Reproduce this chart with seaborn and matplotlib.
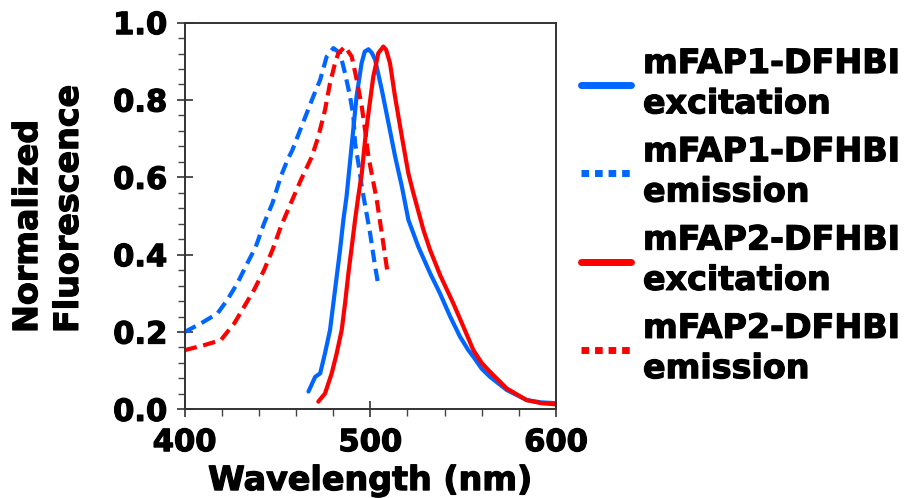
import matplotlib
matplotlib.use("Agg")
import matplotlib.pyplot as plt
import matplotlib.patheffects as pe
import seaborn as sns
import pandas as pd
from matplotlib.ticker import MultipleLocator, FormatStrFormatter

# mFAP1-DFHBI "excitation" (solid blue)
wl_fap1_ex = [466.7, 470.3, 473, 475.6, 478.3, 480.1, 481.9, 483.7, 485.5, 487.2, 489, 490.8,
              492.6, 495.3, 497, 499, 500.8, 502.6, 506.2, 509.8, 513.4, 517, 520.5, 525.9,
              532.2, 537.5, 543, 548.3, 552.8, 555.5, 560, 564.5, 573.5, 584.2, 592, 600]
val_fap1_ex = [0.046, 0.084, 0.093, 0.145, 0.205, 0.274, 0.343, 0.412, 0.49, 0.55, 0.636, 0.722,
               0.809, 0.895, 0.925, 0.931, 0.922, 0.904, 0.826, 0.74, 0.653, 0.576, 0.49, 0.42,
               0.352, 0.30, 0.24, 0.188, 0.153, 0.136, 0.105, 0.084, 0.05, 0.024, 0.018, 0.016]

# mFAP1-DFHBI "emission" (dashed blue)
wl_fap1_em = [400, 408.7, 417.7, 423, 428.4, 433.8, 438.3, 442.8, 447.3, 451.8, 455.4, 458,
              462.2, 465.8, 469.3, 473, 476.5, 480.1, 483.7, 486.4, 489.1, 490.9, 491.8, 493.6,
              495.4, 499.9, 502.6, 504.3]
val_fap1_em = [0.20, 0.222, 0.248, 0.283, 0.326, 0.378, 0.42, 0.481, 0.533, 0.602, 0.645, 0.67,
               0.722, 0.766, 0.809, 0.852, 0.912, 0.934, 0.921, 0.869, 0.809, 0.757, 0.688, 0.636,
               0.576, 0.455, 0.369, 0.322]

# mFAP2-DFHBI "excitation" (solid red)
wl_fap2_ex = [472, 475.6, 479.2, 481.9, 484.6, 486.4, 488.2, 490, 491.8, 493.5, 495.4, 497.2,
              499, 501.6, 504.3, 507, 508.5, 510.6, 513.3, 517, 520.5, 523.2, 528.6, 532.2,
              537.6, 544.7, 550.1, 555.5, 560, 564.5, 573.5, 584.2, 592, 600]
val_fap2_ex = [0.02, 0.041, 0.093, 0.145, 0.205, 0.274, 0.352, 0.42, 0.49, 0.55, 0.61, 0.697,
               0.766, 0.86, 0.921, 0.938, 0.93, 0.895, 0.809, 0.705, 0.61, 0.559, 0.464, 0.412,
               0.347, 0.274, 0.214, 0.153, 0.12, 0.097, 0.054, 0.024, 0.016, 0.013]

# mFAP2-DFHBI "emission" (dashed red)
wl_fap2_em = [400, 410.5, 419.5, 426.7, 432, 437.4, 442.8, 447.3, 451.8, 457.2, 462.6, 468.5,
              472, 475.6, 478.3, 481, 482.8, 486.4, 490, 492.7, 495.4, 497.2, 499, 503.5, 507,
              509.2]
val_fap2_em = [0.153, 0.166, 0.179, 0.222, 0.265, 0.309, 0.36, 0.412, 0.472, 0.533, 0.593, 0.653,
               0.705, 0.774, 0.843, 0.895, 0.921, 0.938, 0.912, 0.852, 0.783, 0.722, 0.653, 0.541,
               0.429, 0.356]

labels = ["mFAP1-DFHBI\nexcitation", "mFAP1-DFHBI\nemission",
          "mFAP2-DFHBI\nexcitation", "mFAP2-DFHBI\nemission"]

blue = "#0066FF"
red = "#FF0000"

sns.set_style("white")
plt.rcParams["font.family"] = ["DejaVu Sans"]
plt.rcParams["font.weight"] = "bold"
plt.rcParams["text.color"] = "black"
plt.rcParams["axes.labelcolor"] = "black"
plt.rcParams["xtick.bottom"] = True
plt.rcParams["ytick.left"] = True

fs = 22
fs_big = 24
heavy = [pe.withStroke(linewidth=0.9, foreground="black")]

fig = plt.figure(figsize=(9.23, 4.98), dpi=100)
ax = fig.add_axes([0.2, 0.178, 0.4024, 0.7766])

dash = (0, (3, 1.6))
series = [
    (wl_fap1_ex, val_fap1_ex, blue, "-", labels[0]),
    (wl_fap1_em, val_fap1_em, blue, dash, labels[1]),
    (wl_fap2_ex, val_fap2_ex, red, "-", labels[2]),
    (wl_fap2_em, val_fap2_em, red, dash, labels[3]),
]
for x, y, c, ls, lab in series:
    df = pd.DataFrame({"wl": x, "val": y})
    sns.lineplot(data=df, x="wl", y="val", ax=ax, color=c, linestyle=ls,
                 linewidth=3, label=lab)

ax.set_xlim(400, 600)
ax.set_ylim(0, 1.0)
ax.xaxis.set_major_locator(MultipleLocator(100))
ax.xaxis.set_minor_locator(MultipleLocator(20))
ax.yaxis.set_major_locator(MultipleLocator(0.2))
ax.yaxis.set_minor_locator(MultipleLocator(0.04))
ax.yaxis.set_major_formatter(FormatStrFormatter("%.1f"))
ax.tick_params(which="major", direction="inout", length=11, width=1.2,
               labelsize=fs, colors="black", color="#333333")
ax.tick_params(axis="y", which="major", pad=7)
ax.tick_params(axis="x", which="major", pad=8)
ax.tick_params(which="minor", direction="out", length=5, width=1.0, color="#444444")
for sp in ax.spines.values():
    sp.set_color("#333333")
    sp.set_linewidth(1.4)
for lbl in ax.get_xticklabels() + ax.get_yticklabels():
    lbl.set_path_effects(heavy)

ax.set_xlabel("Wavelength (nm)", fontsize=fs_big, fontweight="bold", labelpad=5,
              path_effects=heavy)
ax.set_ylabel("")
fig.text(0.052, (498 - 333) / 498, "Normalized\nFluorescence", rotation=90,
         ha="center", va="bottom", multialignment="left", fontsize=fs_big,
         fontweight="bold", linespacing=1.3, path_effects=heavy)

leg = fig.legend(*ax.get_legend_handles_labels(), loc="upper left",
                 bbox_to_anchor=(581 / 923, (498 - 47) / 498), frameon=False,
                 fontsize=fs_big, handlelength=1.5, handletextpad=0.36, labelspacing=0.45,
                 borderpad=0, borderaxespad=0)
ax.get_legend().remove()
for t in leg.get_texts():
    t.set_fontweight("bold")
    t.set_linespacing(1.28)
    t.set_path_effects(heavy)
for h, ls in zip(leg.get_lines(), ["-", (0, (1.1, 0.85)), "-", (0, (1.1, 0.85))]):
    h.set_linewidth(5)
    h.set_linestyle(ls)

fig.savefig("out.png", dpi=100)
